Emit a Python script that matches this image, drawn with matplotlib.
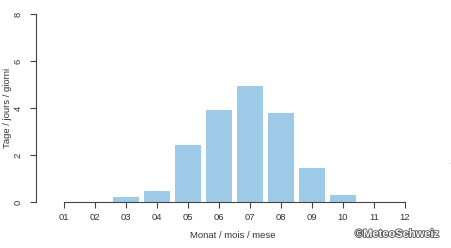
import matplotlib
matplotlib.use("Agg")
import matplotlib.pyplot as plt
import matplotlib.patheffects as pe

months = ["01", "02", "03", "04", "05", "06", "07", "08", "09", "10", "11", "12"]
days = [0, 0, 0.22, 0.48, 2.43, 3.9, 4.94, 3.8, 1.43, 0.28, 0, 0]
yticks = [0, 2, 4, 6, 8]

plt.rcParams['font.family'] = ['Liberation Sans', 'DejaVu Sans']

W, H = 451, 248
fig = plt.figure(figsize=(W / 100, H / 100), dpi=100)
# axes from pixel x=36..430, y=14..202
ax = fig.add_axes([36 / W, 1 - 202 / H, (430 - 36) / W, (202 - 14) / H])

pos = list(range(1, len(months) + 1))
ax.bar(pos, days, width=0.84, color="#9dcbe7", edgecolor="none", zorder=2)
ax.plot([0.55, 12.45], [0, 0], color="#eeeeee", lw=0.8, zorder=1)

ax.set_xlim((36 - 64) / 31 + 1, (430 - 64) / 31 + 1)
ax.set_ylim(0, 8)

for s in ["top", "right"]:
    ax.spines[s].set_visible(False)
ax.spines["left"].set_bounds(0, 8)
ax.spines["bottom"].set_bounds(1, 12)
for s in ["left", "bottom"]:
    ax.spines[s].set_color("#444444")
    ax.spines[s].set_linewidth(0.8)

ax.set_xticks(pos)
ax.set_xticklabels(months)
ax.set_yticks(yticks)
ax.set_yticklabels([str(v) for v in yticks], rotation=90, va="center", ha="center")
ax.tick_params(axis="both", colors="#444444", labelcolor="#333333",
               labelsize=6.8, length=4, width=0.8)
ax.tick_params(axis="x", pad=4)
ax.tick_params(axis="y", pad=9)

ax.set_xlabel("Monat / mois / mese", fontsize=6.8, color="#333333", va="center")
ax.xaxis.set_label_coords((233 - 36) / 394, -(235 - 202) / 188)
ax.set_ylabel("Tage / jours / giorni", fontsize=6.8, color="#333333", va="center")
ax.yaxis.set_label_coords(-(36 - 8) / 394, (202 - 108) / 188)

fig.text(397 / W, 1 - 234 / H, "©MeteoSchweiz", fontsize=8, color="white",
         ha="center", va="center", fontweight="bold",
         path_effects=[pe.withStroke(linewidth=1.2, foreground="#555555")])
fig.text(450 / W, 1 - 163 / H, ".", fontsize=5, color="#555555", ha="center", va="center")

fig.savefig("out.png", dpi=100)
